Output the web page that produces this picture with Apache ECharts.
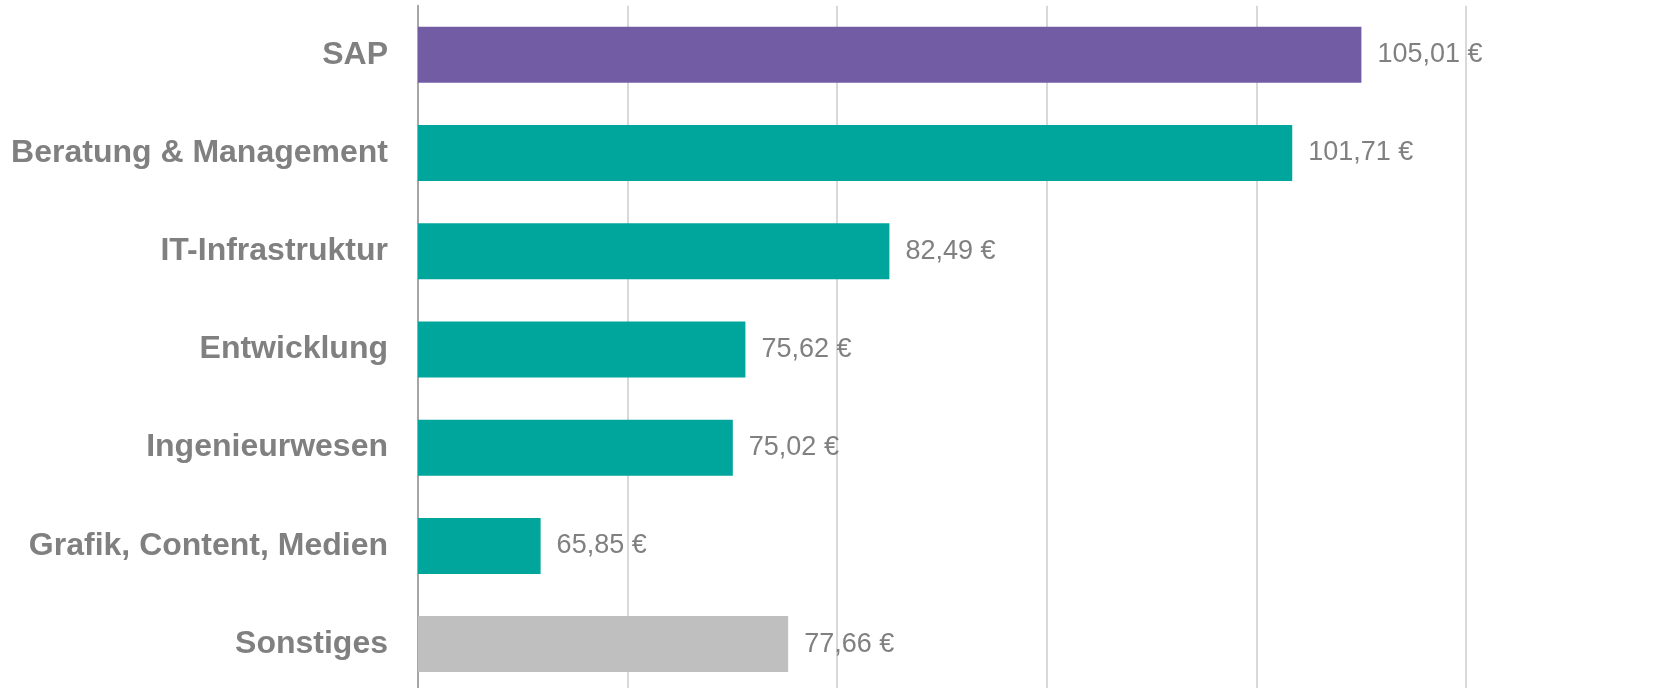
<!DOCTYPE html>
<html>
<head>
<meta charset="utf-8">
<title>Stundensätze nach Bereich</title>
<script src="https://cdn.jsdelivr.net/npm/echarts@6/dist/echarts.min.js"></script>
<style>
  html,body{margin:0;padding:0;background:#ffffff;}
  #chart{width:1654px;height:688px;}
</style>
</head>
<body>
<div id="chart"></div>
<script>
  // Bereiche, von oben nach unten
  const categories = ['SAP', 'Beratung & Management', 'IT-Infrastruktur', 'Entwicklung', 'Ingenieurwesen', 'Grafik, Content, Medien', 'Sonstiges'];
  // Stundensatz in Euro
  const rates = [105.01, 101.71, 82.49, 75.62, 75.02, 65.85, 77.66];
  const barColors = ['#725ca3', '#00a59c', '#00a59c', '#00a59c', '#00a59c', '#00a59c', '#bfbfbf'];

  const formatEuro = v => v.toFixed(2).replace('.', ',') + ' €';

  const myChart = echarts.init(document.getElementById('chart'));

  const option = {
    animation: false,
    grid: {
      left: 418,
      right: 188,
      top: 5.7,
      height: 687.5, // unterer Rand liegt knapp ausserhalb des Bildes
      outerBoundsMode: 'none',
      containLabel: false
    },
    xAxis: {
      type: 'value',
      min: 60,
      max: 110,
      interval: 10,
      axisLine: { show: false },
      axisTick: { show: false },
      axisLabel: { show: false },
      splitLine: { lineStyle: { color: '#d9d9d9', width: 2 } }
    },
    yAxis: {
      type: 'category',
      inverse: true,
      data: categories,
      axisLine: { lineStyle: { color: '#a6a6a6', width: 2 } },
      axisTick: { show: false },
      axisLabel: {
        margin: 30,
        color: '#808080',
        fontFamily: 'Liberation Sans, Arial, sans-serif',
        fontWeight: 'bold',
        fontSize: 32
      }
    },
    series: [
      {
        name: 'Stundensatz',
        type: 'bar',
        barWidth: 56,
        data: rates.map((v, i) => ({ value: v, itemStyle: { color: barColors[i] } })),
        label: {
          show: true,
          position: 'right',
          distance: 16,
          color: '#808080',
          fontFamily: 'Liberation Sans, Arial, sans-serif',
          fontSize: 27,
          formatter: p => formatEuro(p.value)
        }
      }
    ]
  };

  myChart.setOption(option);
</script>
</body>
</html>
